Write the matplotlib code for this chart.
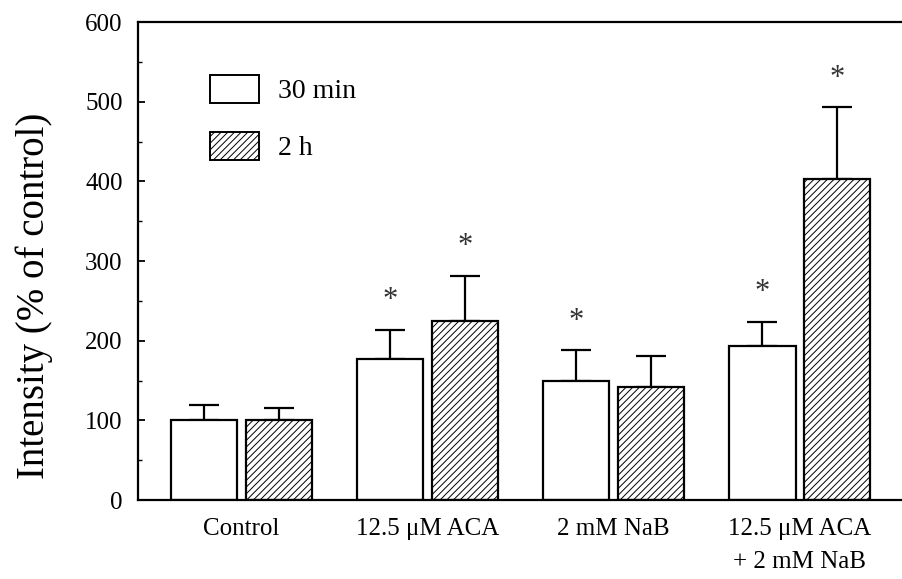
import matplotlib
matplotlib.use("Agg")
import matplotlib.pyplot as plt
from matplotlib.patches import Patch
import numpy as np

# valores (% del control)
grupos = ["Control", "12.5 μM ACA", "2 mM NaB", "12.5 μM ACA\n+ 2 mM NaB"]
media_30min = [101, 177, 149, 193]
error_30min = [18, 37, 39, 31]
media_2h = [100, 225, 142, 403]
error_2h = [16, 56, 39, 90]
sig_30min = [False, True, True, True]
sig_2h = [False, True, False, True]

plt.rcParams["font.family"] = ["Liberation Serif", "DejaVu Serif"]
plt.rcParams["hatch.linewidth"] = 0.7

fig = plt.figure(figsize=(9.02, 5.79), dpi=100)
ax = fig.add_axes([0.153, 0.1364, 0.847, 0.8256])

x = np.arange(len(grupos))
ancho = 0.355
desp = 0.2

ax.bar(x - desp, media_30min, ancho, color="white", edgecolor="black",
       linewidth=1.6, zorder=2)
ax.bar(x + desp, media_2h, ancho, color="white", edgecolor="black",
       linewidth=1.6, hatch="/////", zorder=2)

# solo la barra de error superior
ax.errorbar(x - desp, media_30min, yerr=[np.zeros(4), error_30min], fmt="none",
            ecolor="black", elinewidth=1.6, capsize=11, capthick=1.6, zorder=1)
ax.errorbar(x + desp, media_2h, yerr=[np.zeros(4), error_2h], fmt="none",
            ecolor="black", elinewidth=1.6, capsize=11, capthick=1.6, zorder=1)

for i in range(len(grupos)):
    if sig_30min[i]:
        ax.annotate("*", (x[i] - desp, media_30min[i] + error_30min[i]),
                    xytext=(0, 21), textcoords="offset points",
                    ha="center", va="center", fontsize=22, color="#333333")
    if sig_2h[i]:
        ax.annotate("*", (x[i] + desp, media_2h[i] + error_2h[i]),
                    xytext=(0, 21), textcoords="offset points",
                    ha="center", va="center", fontsize=22, color="#333333")

ax.set_xlim(-0.557, 3.55)
ax.set_ylim(0, 600)
ax.set_yticks(range(0, 601, 100))
ax.set_yticks(range(50, 600, 100), minor=True)
ax.set_xticks(x)
ax.set_xticklabels(grupos, fontsize=18, linespacing=1.65)
ax.tick_params(axis="x", length=0, pad=13)
ax.tick_params(axis="y", direction="in", length=5, width=1.3, labelsize=18, pad=11)
ax.tick_params(axis="y", which="minor", direction="in", length=3, width=1.0)

for lado in ["left", "bottom", "top"]:
    ax.spines[lado].set_linewidth(1.6)
ax.spines["right"].set_visible(False)

ax.set_ylabel("Intensity (% of control)", fontsize=28)
ax.yaxis.set_label_coords(-0.111, 0.427)

manejadores = [Patch(facecolor="white", edgecolor="black", linewidth=1.4, label="30 min"),
               Patch(facecolor="white", edgecolor="black", linewidth=1.4,
                     hatch="/////", label="2 h")]
ax.legend(handles=manejadores, loc="upper left", bbox_to_anchor=(0.094, 0.889),
          frameon=False, fontsize=20, handlelength=1.76, handleheight=1.15,
          handletextpad=0.68, labelspacing=1.0, borderpad=0, borderaxespad=0)

fig.savefig("out.png", dpi=100)
